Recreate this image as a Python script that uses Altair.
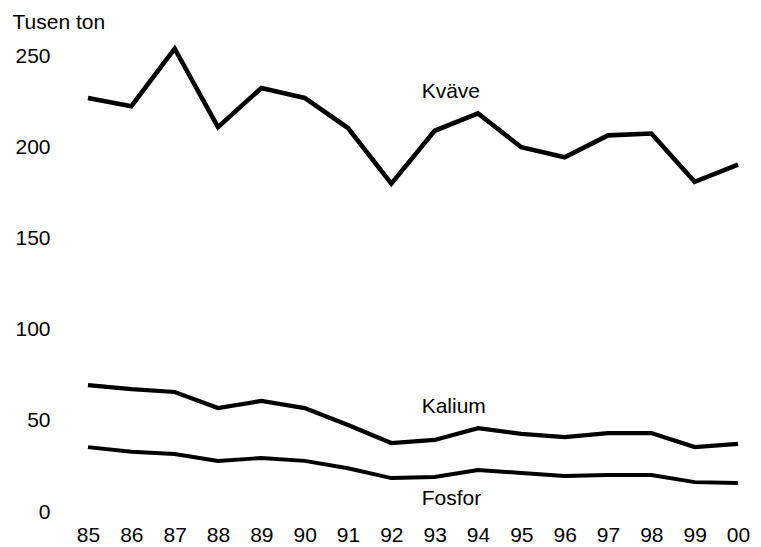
import altair as alt
import pandas as pd

years = ["85", "86", "87", "88", "89", "90", "91", "92", "93", "94", "95", "96", "97", "98", "99", "00"]
kvave = [227, 222.5, 254, 211, 232.5, 227, 210.5, 180, 209, 218.5, 200, 194.5, 206.5, 207.5, 181, 190.5]
kalium = [69.6, 67.4, 65.8, 57, 60.9, 57, 47.7, 37.8, 39.5, 46, 42.8, 41, 43.3, 43.3, 35.6, 37.3]
fosfor = [35.6, 33, 31.8, 28, 29.6, 28, 24, 18.6, 19.2, 23, 21.4, 19.7, 20.3, 20.3, 16.4, 15.9]

series_names = ["Kväve", "Kalium", "Fosfor"]
label_years = ["93", "93", "93"]
label_values = [227, 54.3, 3.8]
y_ticks = [0, 50, 100, 150, 200, 250]

FONT = "Liberation Sans"
FS = 21

rows = []
for name, vals in zip(series_names, [kvave, kalium, fosfor]):
    for yr, v in zip(years, vals):
        rows.append({"year": yr, "value": v, "series": name})
df = pd.DataFrame(rows)
labels_df = pd.DataFrame({"year": label_years, "value": label_values, "series": series_names})

x_enc = alt.X(
    "year:O",
    sort=years,
    scale=alt.Scale(type="point", padding=0),
    axis=alt.Axis(
        title=None, labelAngle=0, domain=False, ticks=False, tickSize=0, grid=False,
        labelPadding=12, labelFontSize=FS, labelFont=FONT, labelColor="black",
    ),
)
y_enc = alt.Y(
    "value:Q",
    scale=alt.Scale(domain=[0, 250], nice=False, zero=True),
    axis=alt.Axis(
        values=y_ticks, domain=False, ticks=False, tickSize=0, grid=False,
        labelPadding=38, labelFontSize=FS, labelFont=FONT, labelColor="black",
        title="Tusen ton", titleAngle=0, titleX=-76, titleY=-28,
        titleAlign="left", titleBaseline="alphabetic", titleFontSize=FS,
        titleFont=FONT, titleFontWeight="normal", titleColor="black",
    ),
)

lines = alt.Chart(df).mark_line(color="black", strokeJoin="miter").encode(
    x=x_enc,
    y=y_enc,
    detail="series:N",
    strokeWidth=alt.StrokeWidth(
        "series:N",
        scale=alt.Scale(domain=series_names, range=[4.6, 3.9, 4.5]),
        legend=None,
    ),
)

texts = alt.Chart(labels_df).mark_text(
    align="left", baseline="alphabetic", dx=-13, font=FONT, fontSize=FS, color="black"
).encode(
    x=alt.X("year:O", sort=years),
    y=alt.Y("value:Q"),
    text="series:N",
)

chart = (
    alt.layer(lines, texts)
    .properties(
        width=650,
        height=456,
        autosize=alt.AutoSizeParams(type="none"),
        padding={"left": 80, "top": 48, "right": 15, "bottom": 35},
        background="white",
    )
    .configure_view(strokeWidth=0)
)

chart.save("out.html", embed_options={"renderer": "svg", "actions": False})
